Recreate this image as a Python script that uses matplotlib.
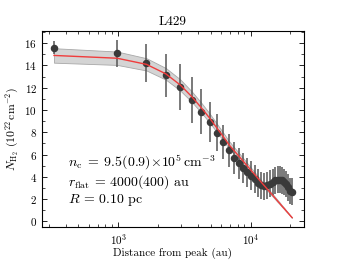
import matplotlib
matplotlib.use('Agg')
import matplotlib.pyplot as plt
import numpy as np
from matplotlib.ticker import MultipleLocator

plt.rcParams['font.family'] = 'serif'
plt.rcParams['font.serif'] = ['cmr10', 'DejaVu Serif']
plt.rcParams['mathtext.fontset'] = 'cm'
plt.rcParams['axes.formatter.use_mathtext'] = True
plt.rcParams['axes.unicode_minus'] = False

# 径向距离 (au)
radius = [327, 981, 1635, 2289, 2943, 3597, 4251, 4905, 5559, 6213,
          6867, 7521, 8175, 8829, 9483, 10137, 10791, 11445, 12099, 12753,
          13407, 14061, 14715, 15369, 16023, 16677, 17331, 17985, 18639, 19293,
          19947, 20601]
# 观测柱密度
n_obs = [15.6, 15.1, 14.2, 13.1, 12.05, 10.9, 9.85, 8.9, 7.95, 7.12,
         6.37, 5.7, 5.22, 4.77, 4.42, 4.12, 3.78, 3.48, 3.25, 3.15,
         3.25, 3.4, 3.55, 3.68, 3.75, 3.75, 3.68, 3.55, 3.35, 3.05,
         2.72, 2.68]
n_err = [0.6, 1.2, 1.7, 1.9, 2.05, 2.05, 2.0, 1.8, 1.65, 1.55,
         1.5, 1.45, 1.4, 1.35, 1.3, 1.3, 1.25, 1.25, 1.2, 1.2,
         1.2, 1.2, 1.2, 1.2, 1.2, 1.2, 1.2, 1.2, 1.2, 1.2,
         1.2, 1.2]
# 模型曲线
n_model = [14.9, 14.65, 14.1, 13.25, 12.25, 11.2, 10.2, 9.28, 8.4, 7.62,
           6.89, 6.34, 5.85, 5.39, 4.96, 4.56, 4.19, 3.83, 3.5, 3.19,
           2.89, 2.61, 2.34, 2.08, 1.83, 1.6, 1.36, 1.15, 0.93, 0.73,
           0.53, 0.34]
band = [0.65, 0.6, 0.55, 0.52, 0.5, 0.47, 0.44, 0.41, 0.38, 0.35,
        0.33, 0.31, 0.29, 0.27, 0.25, 0.23, 0.21, 0.19, 0.17, 0.15,
        0.13, 0.12, 0.11, 0.1, 0.09, 0.08, 0.07, 0.06, 0.05, 0.04,
        0.03, 0.02]

r = np.array(radius)
m = np.array(n_model)
b = np.array(band)

fig = plt.figure(figsize=(3.38, 2.6), dpi=100)
ax = fig.add_axes([0.124, 0.127, 0.775, 0.754])

ax.fill_between(r, m - b, m + b, facecolor='#d4d4d4', edgecolor='#a8a8a8',
                linewidth=0.6, zorder=1)
ax.plot(r, m, color='#f03c3c', lw=1.0, zorder=3)
ax.errorbar(r, n_obs, yerr=n_err, fmt='o', color='#3a3a3a', ecolor='#555555',
            elinewidth=1.1, ms=4.4, capsize=0, zorder=2)

ax.set_xscale('log')
ax.set_xlim(265, 25300)
ax.set_ylim(-0.5, 17.1)
ax.yaxis.set_major_locator(MultipleLocator(2))
ax.yaxis.set_minor_locator(MultipleLocator(1))
ax.tick_params(which='both', direction='in', top=True, right=True, labelsize=8)
ax.tick_params(which='major', length=3.5, width=0.6)
ax.tick_params(which='minor', length=2, width=0.5)
for s in ax.spines.values():
    s.set_linewidth(0.8)

ax.set_title('L429', fontsize=9.5, pad=4)
ax.set_xlabel('Distance from peak (au)', fontsize=8, labelpad=1)
ax.set_ylabel(r'$N_{\rm H_2}$ $(10^{22}\,{\rm cm}^{-2})$', fontsize=8.5, labelpad=2)

ax.text(0.099, 0.308, r'$n_{\rm c}\;=\;9.5(0.9){\times}10^5\,{\rm cm}^{-3}$',
        transform=ax.transAxes, fontsize=10)
ax.text(0.099, 0.209, r'$r_{\rm flat}$ = 4000(400) au',
        transform=ax.transAxes, fontsize=10)
ax.text(0.099, 0.122, r'$R$ = 0.10 pc',
        transform=ax.transAxes, fontsize=10)

plt.savefig('out.png', dpi=100)
